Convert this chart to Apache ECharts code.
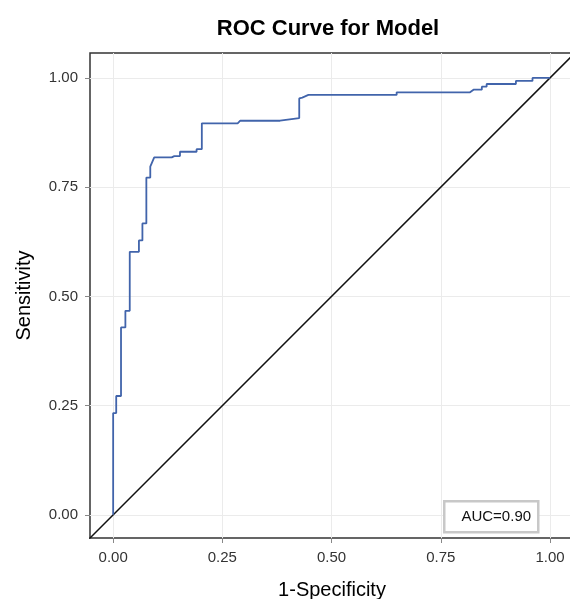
<!DOCTYPE html>
<html><head><meta charset="utf-8">
<script src="https://cdn.jsdelivr.net/npm/echarts@6/dist/echarts.min.js"></script>
<style>html,body{margin:0;padding:0;background:#fff}#c{width:570px;height:599px}</style>
</head><body><div id="c"></div>
<script>
// ROC curve vertices (1-Specificity, Sensitivity)
const fpr = [0,0,0.007,0.007,0.018,0.018,0.028,0.028,0.038,0.038,0.059,0.059,0.067,0.067,0.076,0.076,0.085,0.085,0.094,0.134,0.140,0.153,0.153,0.191,0.191,0.203,0.203,0.285,0.291,0.382,0.426,0.426,0.433,0.447,0.649,0.649,0.817,0.825,0.844,0.844,0.855,0.855,0.922,0.922,0.960,0.960,1.0];
const tpr = [0,0.233,0.233,0.272,0.272,0.429,0.429,0.467,0.467,0.602,0.602,0.628,0.628,0.667,0.667,0.772,0.772,0.797,0.818,0.818,0.821,0.821,0.831,0.831,0.837,0.837,0.896,0.896,0.902,0.902,0.908,0.953,0.955,0.961,0.961,0.967,0.967,0.973,0.973,0.980,0.980,0.986,0.986,0.993,0.993,1.0,1.0];
// reference diagonal (chance line)
const diagX = [-0.1, 1.1];
const diagY = [-0.1, 1.1];
const tickValues = [0, 0.25, 0.5, 0.75, 1];
const titleText = 'ROC Curve for Model';
const xName = '1-Specificity';
const yName = 'Sensitivity';
const aucText = 'AUC=0.90';

const rocData = fpr.map((x, i) => [x, tpr[i]]);
const diagData = diagX.map((x, i) => [x, diagY[i]]);
const FONT = '"Liberation Sans", Arial, sans-serif';

const chart = echarts.init(document.getElementById('c'), null, {renderer: 'canvas'});
const axisCommon = {
  type: 'value',
  nameLocation: 'middle',
  nameTextStyle: {fontFamily: FONT, fontSize: 20, color: '#000'},
  axisLine: {show: false, onZero: false},
  axisTick: {show: true, length: 5, lineStyle: {color: '#888', width: 1}, customValues: tickValues},
  axisLabel: {fontFamily: FONT, fontSize: 15, color: '#333', customValues: tickValues,
    formatter: v => v.toFixed(2)},
  splitLine: {show: true, lineStyle: {color: '#ebebeb', width: 1}}
};
chart.setOption({
  animation: false,
  backgroundColor: '#fff',
  title: {text: titleText, left: 323, textAlign: 'center', top: 13,
    textStyle: {fontFamily: FONT, fontSize: 22, fontWeight: 'bold', color: '#000'}},
  grid: {left: 90, top: 53, right: -4, bottom: 61, show: true, borderColor: '#333', borderWidth: 1.5,
    backgroundColor: '#fff', containLabel: false, outerBoundsMode: 'none'},
  xAxis: Object.assign({}, axisCommon, {min: -0.053, max: 1.055, name: xName, nameGap: 42,
    axisLabel: Object.assign({}, axisCommon.axisLabel, {margin: 12})}),
  yAxis: Object.assign({}, axisCommon, {min: -0.053, max: 1.057, name: yName, nameGap: 56,
    axisLabel: Object.assign({}, axisCommon.axisLabel, {margin: 12})}),
  series: [
    {type: 'line', data: diagData, symbol: 'none', clip: true,
      lineStyle: {color: '#111', width: 1.5}, z: 2},
    {type: 'line', data: rocData, symbol: 'none', clip: true,
      lineStyle: {color: '#4164ab', width: 1.8}, z: 3}
  ],
  graphic: [{
    type: 'group', left: 443, top: 500, z: 100,
    children: [
      {type: 'rect', z: 100, shape: {x: 0, y: 0, width: 94, height: 31},
        style: {fill: '#fff', stroke: '#c8c8c8', lineWidth: 2.5}},
      {type: 'text', z: 101, x: 52, y: 15.5,
        style: {text: aucText, fontFamily: FONT, fontSize: 15, fill: '#111', align: 'center', verticalAlign: 'middle'}}
    ]
  }]
});
</script></body></html>
